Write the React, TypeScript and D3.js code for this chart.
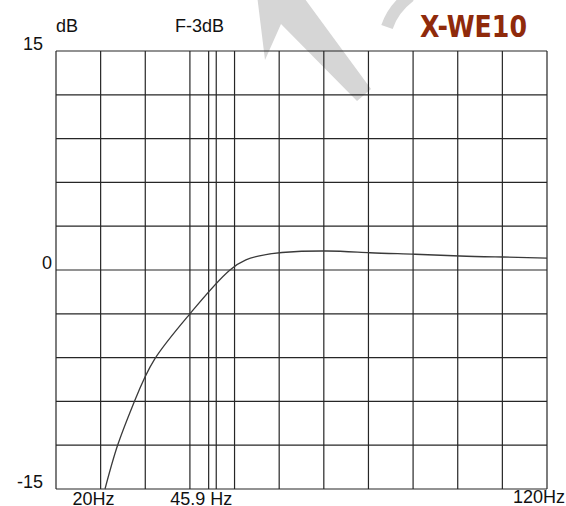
import React from 'react';
import * as d3 from 'd3';

// frequency response
const freqHz = [20.98, 23.82, 27.54, 32.1, 40.0, 48.98, 55.3, 60.63, 70.71, 80.35, 90.43, 100.5, 110.1, 120];
const gainDb = [-15, -11.99, -9.02, -6.1, -3.0, 0, 0.95, 1.2, 1.3, 1.18, 1.08, 0.96, 0.89, 0.82];

const gridHz = [10, 20, 30, 40, 50, 60, 70, 80, 90, 100, 110, 120];
const gridDb = [-15, -12, -9, -6, -3, 0, 3, 6, 9, 12, 15];
const markerHz = [44.2, 45.9];
const yLabels = [15, 0, -15];

const W = 566;
const H = 506;

const App: React.FC = () => {
  const x = d3.scaleLinear().domain([10, 120]).range([56, 547]);
  const y = d3.scaleLinear().domain([-15, 15]).range([489, 51]);

  const pts = freqHz.map((f, i) => [f, gainDb[i]] as [number, number]);
  const line = d3.line<[number, number]>()
    .x(d => x(d[0]))
    .y(d => y(d[1]))
    .curve(d3.curveNatural);

  const font = '"Liberation Sans", Arial, sans-serif';
  const ink = '#262626';

  return (
    <svg width={W} height={H} style={{ position: 'absolute', left: 0, top: 0, background: '#fff' }}>
      {/* watermark */}
      <path d="M 257 -5 L 265 60 L 281 24 L 357 101 L 371 89 L 302 -5 Z" fill="#d6d6d6" />
      <path d="M 387 27 Q 393 9 410 -4" fill="none" stroke="#d6d6d6" strokeWidth={12} />

      {/* grid */}
      <g stroke={ink} strokeWidth={1.2}>
        {gridHz.map(f => (
          <line key={'v' + f} x1={x(f)} x2={x(f)} y1={y(15)} y2={y(-15)} />
        ))}
        {markerHz.map(f => (
          <line key={'m' + f} x1={x(f)} x2={x(f)} y1={y(15)} y2={y(-15)} />
        ))}
        {gridDb.map(d => (
          <line key={'h' + d} x1={x(10)} x2={x(120)} y1={y(d)} y2={y(d)} />
        ))}
      </g>

      {/* response curve */}
      <path d={line(pts) || ''} fill="none" stroke="#3a3a3a" strokeWidth={1.3} />

      {/* labels */}
      <g fontFamily={font} fontSize={18} fill="#111">
        <text x={56} y={32}>dB</text>
        <text x={175} y={32}>F-3dB</text>
        {yLabels.map(v => (
          <text key={v} x={v === 0 ? 52 : 43} y={y(v) - 1} textAnchor="end">
            {v}
          </text>
        ))}
        <text x={x(20) + 14} y={505} textAnchor="end">20Hz</text>
        <text x={x(45.9) + 16} y={505} textAnchor="end">45.9 Hz</text>
        <text x={x(120) + 18} y={503} textAnchor="end">120Hz</text>
      </g>

      <text x={420} y={37} fontFamily='"DejaVu Sans", sans-serif' fontWeight="bold" fontSize={30}
        fill="#8f2a0b" textLength={107} lengthAdjust="spacingAndGlyphs">X-WE10</text>
    </svg>
  );
};

export default App;
